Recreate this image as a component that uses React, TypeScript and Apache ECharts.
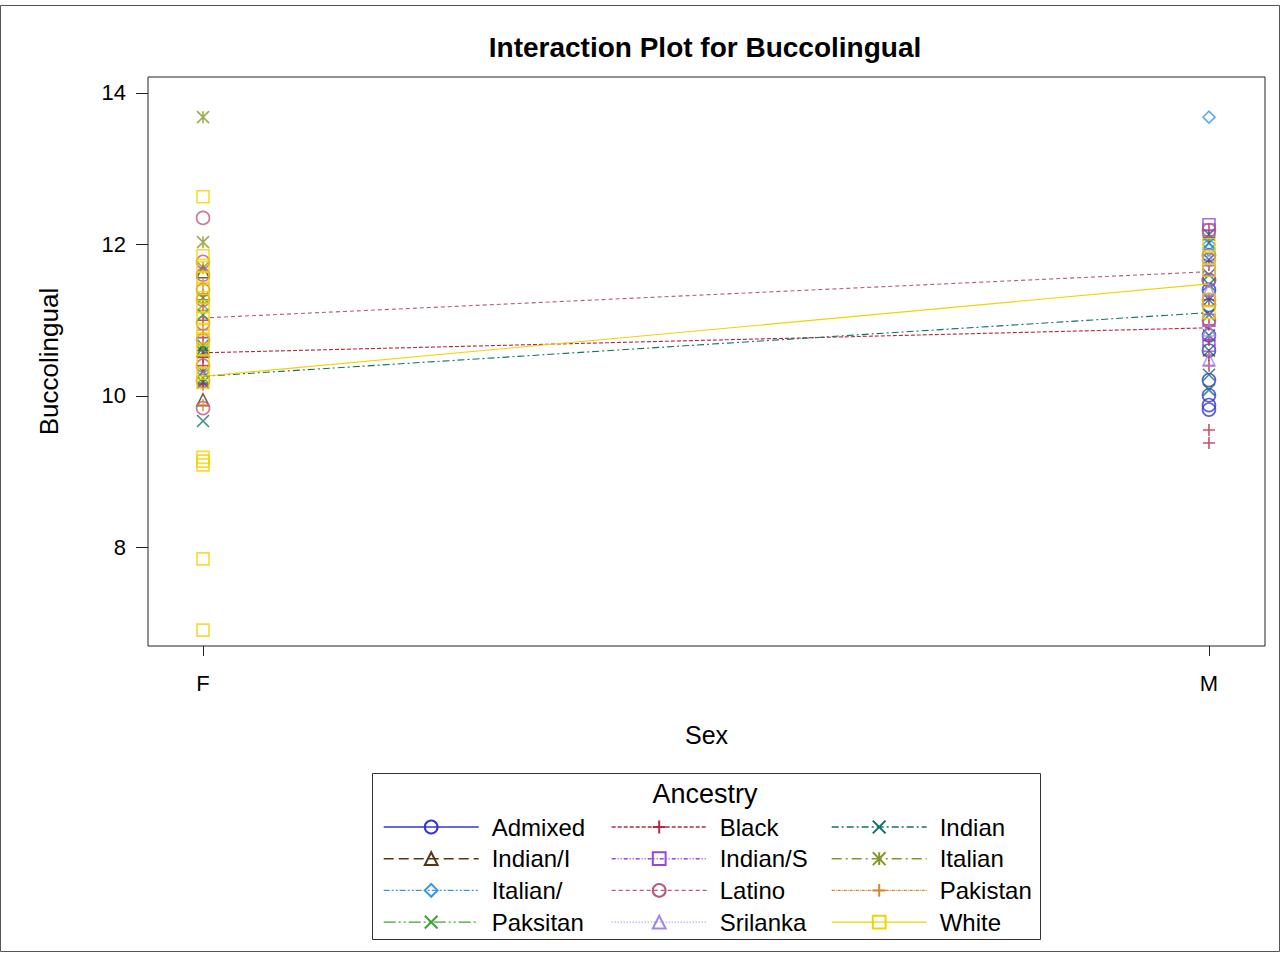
import React, { useEffect, useRef } from "react";
import * as echarts from "echarts";

// Ancestry groups, drawing order and styles
const groups = [
  "Admixed", "Black", "Indian",
  "Indian/I", "Indian/S", "Italian",
  "Italian/", "Latino", "Pakistan",
  "Paksitan", "Srilanka", "White",
];

const colors: Record<string, string> = {
  "Admixed": "#3434d8",
  "Black": "#b42840",
  "Indian": "#12706a",
  "Indian/I": "#553515",
  "Indian/S": "#9448d6",
  "Italian": "#86972a",
  "Italian/": "#3498f0",
  "Latino": "#b65a80",
  "Pakistan": "#d8862a",
  "Paksitan": "#44a03a",
  "Srilanka": "#a484f0",
  "White": "#f2d200",
};

const PLUS = "path://M5,0L5,12M0,6L10,6";
const CROSS = "path://M0,0L10,10M10,0L0,10";
const STAR = "path://M0,0L10,10M10,0L0,10M5,0L5,10";

const symbols: Record<string, string> = {
  "Admixed": "circle",
  "Black": PLUS,
  "Indian": CROSS,
  "Indian/I": "triangle",
  "Indian/S": "rect",
  "Italian": STAR,
  "Italian/": "diamond",
  "Latino": "circle",
  "Pakistan": PLUS,
  "Paksitan": CROSS,
  "Srilanka": "triangle",
  "White": "rect",
};

const dashes: Record<string, any> = {
  "Admixed": "solid",
  "Black": [4, 2],
  "Indian": [7, 3, 2, 3],
  "Indian/I": [10, 5],
  "Indian/S": [4, 2, 1, 2, 1, 2],
  "Italian": [10, 4, 2, 4],
  "Italian/": [6, 2, 2, 2, 2, 2],
  "Latino": [4, 3],
  "Pakistan": [3, 1, 1, 1],
  "Paksitan": [12, 3, 2, 3, 2, 3],
  "Srilanka": [1, 2],
  "White": "solid",
};

// Sex levels on the x axis (F = 0, M = 1)
const sexLevels = ["F", "M"];

// Observed buccolingual values per ancestry, by sex
const femaleValues: Record<string, number[]> = {
  "Admixed": [],
  "Black": [11.27, 11.0, 10.77, 10.6, 10.51, 10.4, 10.17, 10.15],
  "Indian": [10.67, 10.58, 10.32, 10.18, 9.67],
  "Indian/I": [11.64, 10.6, 9.95],
  "Indian/S": [],
  "Italian": [13.68, 12.03, 11.69, 11.2],
  "Italian/": [],
  "Latino": [12.35, 11.77, 11.6, 11.4, 11.27, 10.96, 10.74, 10.4, 10.2, 9.84],
  "Pakistan": [11.47, 11.33, 11.13, 10.87, 9.88],
  "Paksitan": [11.3, 11.07, 10.63, 10.24],
  "Srilanka": [],
  "White": [12.63, 11.85, 11.72, 11.55, 11.42, 11.3, 11.18, 11.02, 10.88, 10.75,
    10.62, 10.45, 10.3, 10.18, 9.19, 9.14, 9.09, 7.85, 6.91],
};

const maleValues: Record<string, number[]> = {
  "Admixed": [11.86, 11.53, 11.4, 11.2, 10.8, 10.6, 10.21, 10.01, 9.88, 9.82],
  "Black": [12.19, 12.09, 11.73, 11.27, 10.94, 10.74, 10.54, 10.4, 9.55, 9.38],
  "Indian": [12.13, 12.02, 11.8, 11.6, 11.47, 11.27, 11.07, 10.8, 10.6, 10.28, 10.08],
  "Indian/I": [],
  "Indian/S": [12.26, 12.19, 11.66, 11.27, 11.0, 10.67],
  "Italian": [],
  "Italian/": [13.68, 12.0, 11.93],
  "Latino": [12.19, 11.8, 11.53, 11.27, 11.0],
  "Pakistan": [],
  "Paksitan": [],
  "Srilanka": [11.8, 11.4, 10.87, 10.48],
  "White": [12.0, 11.82, 11.66, 11.27, 11.1],
};

// Group means joined across sex (only groups observed in both sexes)
const meanF: Record<string, number> = {
  "Black": 10.57,
  "Indian": 10.26,
  "Latino": 11.03,
  "White": 10.26,
};
const meanM: Record<string, number> = {
  "Black": 10.9,
  "Indian": 11.1,
  "Latino": 11.64,
  "White": 11.48,
};

const yTicks = [8, 10, 12, 14];

const FONT = "'Liberation Sans', Arial, Helvetica, sans-serif";

export default function App() {
  const ref = useRef<HTMLDivElement>(null);

  useEffect(() => {
    if (!ref.current) return;
    const chart = echarts.init(ref.current, undefined, { renderer: "svg" });

    const series: any[] = [];
    groups.forEach((g) => {
      const c = colors[g];
      series.push({
        type: "scatter",
        name: g + " obs",
        symbol: symbols[g],
        symbolSize: symbols[g] === "circle" ? 13 : 12,
        itemStyle: { color: "none", borderColor: c, borderWidth: 1.6 },
        data: [
          ...femaleValues[g].map((v) => [0, v]),
          ...maleValues[g].map((v) => [1, v]),
        ],
        z: 2,
      });
    });
    groups.forEach((g) => {
      const c = colors[g];
      const hasLine = meanF[g] !== undefined && meanM[g] !== undefined;
      series.push({
        type: "line",
        name: g,
        symbol: symbols[g],
        symbolSize: 14,
        showSymbol: false,
        itemStyle: { color: "none", borderColor: c, borderWidth: 1.2 },
        lineStyle: { color: c, width: 1.1, type: dashes[g] },
        data: hasLine ? [[0, meanF[g]], [1, meanM[g]]] : [],
        z: 3,
      });
    });

    const legendCol = (names: string[], left: number) => ({
      data: names,
      orient: "vertical",
      left,
      top: 815,
      itemWidth: 95,
      itemHeight: 16,
      itemGap: 7.7,
      padding: 0,
      selectedMode: false,
      lineStyle: { width: 1.4 },
      textStyle: {
        fontFamily: FONT,
        fontSize: 24,
        color: "#000",
        lineHeight: 24,
        padding: [0, 0, 0, 8],
      },
    });

    chart.setOption({
      animation: false,
      backgroundColor: "#fff",
      title: {
        text: "Interaction Plot for Buccolingual",
        left: 700,
        textAlign: "center",
        top: 28,
        textStyle: { fontFamily: FONT, fontSize: 28, fontWeight: "bold", color: "#000" },
      },
      grid: {
        left: 148,
        right: 19,
        top: 77,
        bottom: 309,
        show: true,
        borderColor: "#222",
        borderWidth: 1,
        backgroundColor: "transparent",
      },
      xAxis: {
        type: "value",
        min: -0.0547,
        max: 1.0557,
        name: "Sex",
        nameLocation: "middle",
        nameGap: 76,
        nameTextStyle: { fontFamily: FONT, fontSize: 25, color: "#000" },
        axisLine: { show: false, onZero: false },
        splitLine: { show: false },
        axisTick: {
          show: true,
          length: 10,
          customValues: [0, 1],
          lineStyle: { color: "#222" },
        },
        axisLabel: {
          customValues: [0, 1],
          margin: 26,
          fontFamily: FONT,
          fontSize: 22,
          color: "#000",
          formatter: (v: number) => sexLevels[Math.round(v)] ?? "",
        },
      },
      yAxis: {
        type: "value",
        min: 6.7,
        max: 14.21,
        name: "Buccolingual",
        nameLocation: "middle",
        nameGap: 86,
        nameTextStyle: { fontFamily: FONT, fontSize: 26, color: "#000" },
        axisLine: { show: false, onZero: false },
        splitLine: { show: false },
        axisTick: {
          show: true,
          length: 12,
          customValues: yTicks,
          lineStyle: { color: "#222" },
        },
        axisLabel: {
          customValues: yTicks,
          margin: 22,
          fontFamily: FONT,
          fontSize: 22,
          color: "#000",
        },
      },
      legend: [
        legendCol(["Admixed", "Indian/I", "Italian/", "Paksitan"], 383),
        legendCol(["Black", "Indian/S", "Latino", "Srilanka"], 611),
        legendCol(["Indian", "Italian", "Pakistan", "White"], 831),
      ],
      graphic: [
        {
          type: "rect",
          shape: { x: 0.5, y: 5.5, width: 1279, height: 946 },
          style: { fill: "none", stroke: "#555", lineWidth: 1 },
          silent: true,
        },
        {
          type: "rect",
          shape: { x: 372.5, y: 773.5, width: 668, height: 166 },
          style: { fill: "none", stroke: "#333", lineWidth: 1 },
          silent: true,
        },
        {
          type: "text",
          x: 705,
          y: 794,
          style: {
            text: "Ancestry",
            fontFamily: FONT,
            fontSize: 27,
            fill: "#000",
            align: "center",
            verticalAlign: "middle",
          },
          silent: true,
        },
      ],
      series,
    });

    return () => chart.dispose();
  }, []);

  return (
    <div
      ref={ref}
      style={{ position: "absolute", left: 0, top: 0, width: 1284, height: 955 }}
    />
  );
}
